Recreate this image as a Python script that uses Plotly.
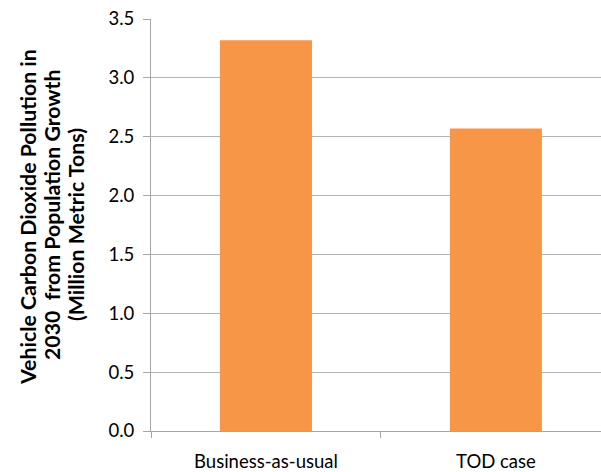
import plotly.graph_objects as go

categories = ["Business-as-usual", "TOD case"]
co2_million_tons = [3.32, 2.57]
y_ticks = [0.0, 0.5, 1.0, 1.5, 2.0, 2.5, 3.0, 3.5]
y_tick_labels = [f"{v:.1f}" for v in y_ticks]
y_title_lines = [
    "Vehicle Carbon Dioxide Pollution in",
    "2030  from Population Growth",
    "(Million Metric Tons)",
]

BAR = "#F79646"
GRID = "#B3B3B3"
AXIS = "#A6A6A6"
FONT = "Lato"

# plot-area geometry in pixels
L, T, B, W, H = 151, 19, 41, 601, 472
PW, PH = W - L, H - T - B

fig = go.Figure(
    go.Bar(
        x=categories,
        y=co2_million_tons,
        marker=dict(color=BAR, line=dict(width=0)),
        width=0.4,
    )
)

fig.update_layout(
    width=W,
    height=H,
    margin=dict(l=L, r=0, t=T, b=B),
    paper_bgcolor="white",
    plot_bgcolor="white",
    showlegend=False,
    font=dict(family=FONT, size=18, color="#000000"),
)

fig.update_xaxes(
    type="category",
    range=[-0.5, 1.457],
    showgrid=False,
    showline=True,
    linecolor=AXIS,
    linewidth=1,
    ticks="outside",
    tickson="boundaries",
    ticklen=6,
    tickcolor=AXIS,
    tickfont=dict(family=FONT, size=18.5),
    ticklabelstandoff=14,
)

fig.update_yaxes(
    range=[0, 3.5],
    tickvals=y_ticks,
    ticktext=y_tick_labels,
    showgrid=True,
    gridcolor=GRID,
    gridwidth=1,
    showline=True,
    linecolor=AXIS,
    linewidth=1,
    ticks="outside",
    ticklen=7,
    tickcolor=AXIS,
    tickfont=dict(family=FONT, size=18.5),
    ticklabelstandoff=5,
    zeroline=False,
)

# rotated, bold three-line axis title
title_x_px = [28, 52, 76]
title_y_px = [217, 215, 225]
for line, xp, yp in zip(y_title_lines, title_x_px, title_y_px):
    fig.add_annotation(
        text=line,
        textangle=-90,
        xref="paper", yref="paper",
        x=(xp - L) / PW, y=(H - B - yp) / PH,
        xanchor="center", yanchor="middle",
        showarrow=False,
        font=dict(family=FONT, size=21.3, color="#000000", weight="bold"),
    )

fig.write_html("out.html")
